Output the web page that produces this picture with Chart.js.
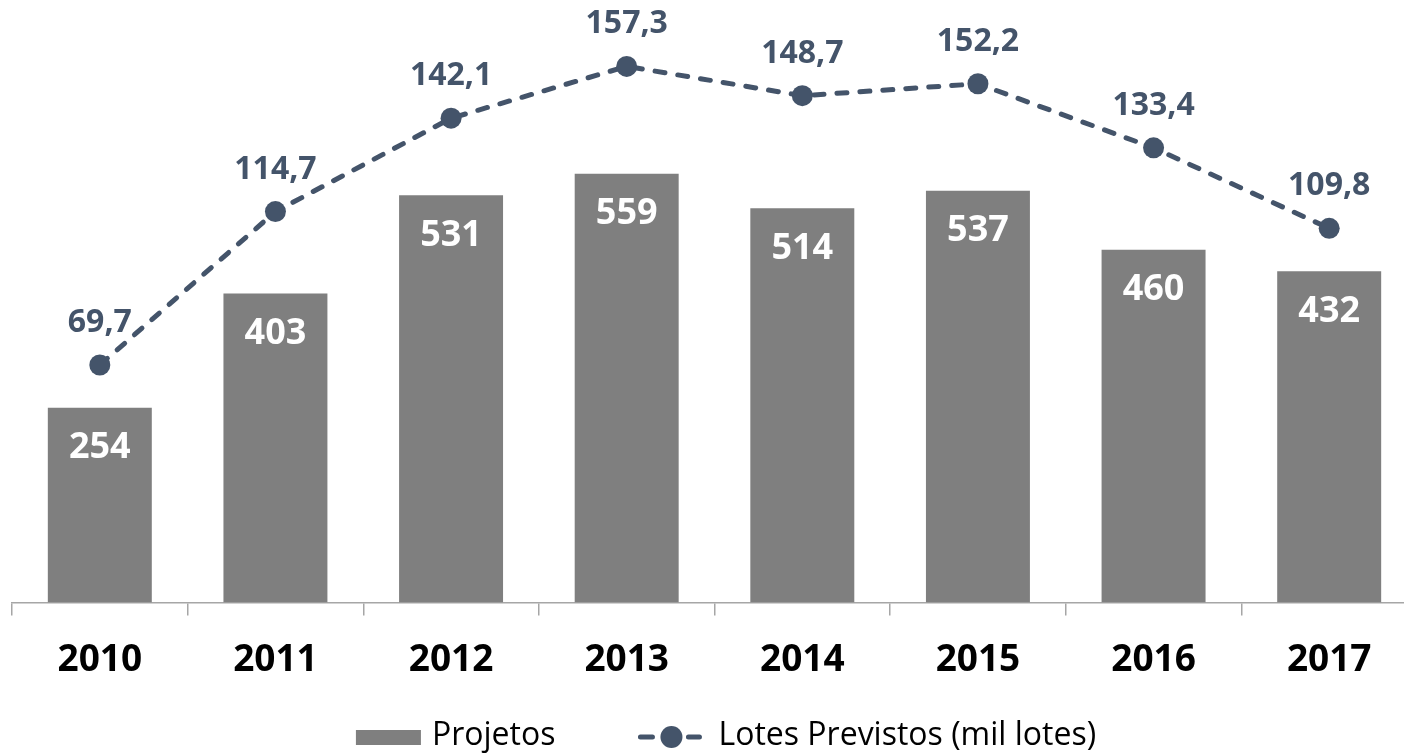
<!DOCTYPE html>
<html>
<head>
<meta charset="utf-8">
<script src="https://cdn.jsdelivr.net/npm/chart.js@4.4.1/dist/chart.umd.min.js"></script>
<style>
  html, body { margin: 0; padding: 0; background: #fff; overflow: hidden; }
  #wrap { position: relative; top: -11px; left: 0; width: 1420px; height: 765px; }
</style>
</head>
<body>
<div id="wrap"><canvas id="chart" width="1420" height="765"></canvas></div>
<script>
// dados
const anos = ['2010', '2011', '2012', '2013', '2014', '2015', '2016', '2017'];
const projetos = [254, 403, 531, 559, 514, 537, 460, 432];
const lotesPrevistos = [69.7, 114.7, 142.1, 157.3, 148.7, 152.2, 133.4, 109.8];

const CINZA = '#7f7f7f';
const AZUL = '#44546a';
const FONTE = "'Open Sans', 'Noto Sans', sans-serif";

// rótulos de valor
const rotulos = {
  id: 'rotulos',
  afterDatasetsDraw(chart) {
    const ctx = chart.ctx;
    ctx.save();
    ctx.textAlign = 'center';
    ctx.textBaseline = 'middle';

    chart.getDatasetMeta(1).data.forEach((bar, i) => {
      ctx.font = `bold 36px ${FONTE}`;
      ctx.fillStyle = '#ffffff';
      ctx.fillText(String(projetos[i]), bar.x, bar.y + 40);
    });

    chart.getDatasetMeta(0).data.forEach((pt, i) => {
      ctx.font = `bold 32px ${FONTE}`;
      ctx.fillStyle = AZUL;
      ctx.fillText(lotesPrevistos[i].toFixed(1).replace('.', ','), pt.x, pt.y - 42);
    });
    ctx.restore();
  }
};

// legenda desenhada à mão (ícone linha + círculo)
const legenda = {
  id: 'legenda',
  afterDraw(chart) {
    const ctx = chart.ctx;
    const t1 = chart.data.datasets[1].label;
    const t2 = chart.data.datasets[0].label;
    ctx.save();
    ctx.font = `32px ${FONTE}`;
    const w1 = ctx.measureText(t1).width;
    const w2 = ctx.measureText(t2).width;
    const total = 65 + 11 + w1 + 83 + 63 + 17 + w2;
    let x = 726 - total / 2;
    const cy = 748;

    ctx.fillStyle = CINZA;
    ctx.fillRect(x, cy - 7, 65, 15);
    x += 65 + 11;
    ctx.fillStyle = '#000';
    ctx.textBaseline = 'alphabetic';
    ctx.fillText(t1, x, cy + 8);
    x += w1 + 83;

    ctx.strokeStyle = AZUL;
    ctx.lineWidth = 5;
    ctx.lineCap = 'round';
    ctx.beginPath();
    ctx.moveTo(x + 2, cy); ctx.lineTo(x + 14, cy);
    ctx.moveTo(x + 50, cy); ctx.lineTo(x + 61, cy);
    ctx.stroke();
    ctx.beginPath();
    ctx.arc(x + 33, cy, 11, 0, 2 * Math.PI);
    ctx.fillStyle = AZUL;
    ctx.fill();
    x += 63 + 17;

    ctx.fillStyle = '#000';
    ctx.fillText(t2, x, cy + 8);
    ctx.restore();
  }
};

new Chart(document.getElementById('chart'), {
  type: 'bar',
  data: {
    labels: anos,
    datasets: [
      {
        type: 'line',
        label: 'Lotes Previstos (mil lotes)',
        data: lotesPrevistos,
        yAxisID: 'y1',
        borderColor: AZUL,
        borderWidth: 5,
        borderDash: [10, 13],
        borderCapStyle: 'round',
        pointRadius: 10.5,
        pointBackgroundColor: AZUL,
        pointBorderWidth: 0,
        tension: 0,
        clip: false,
        order: 1,
      },
      {
        type: 'bar',
        label: 'Projetos',
        data: projetos,
        yAxisID: 'y',
        backgroundColor: CINZA,
        barPercentage: 0.592,
        categoryPercentage: 1,
        order: 2,
      },
    ],
  },
  options: {
    responsive: false,
    animation: false,
    layout: { autoPadding: false, padding: { left: 12, right: 3, top: 0, bottom: 48 } },
    plugins: { legend: { display: false }, tooltip: { enabled: false } },
    scales: {
      x: {
        grid: {
          display: true,
          drawOnChartArea: false,
          drawTicks: true,
          tickLength: 13,
          color: '#a6a6a6',
          lineWidth: 1.5,
          offset: true,
        },
        border: { display: true, color: '#a6a6a6', width: 1.5 },
        ticks: {
          color: '#000',
          padding: 23,
          font: { family: FONTE, size: 37, weight: 'bold' },
        },
      },
      y: { display: false, min: 0, max: 800 },
      y1: { display: false, min: 0, max: 180, position: 'right' },
    },
  },
  plugins: [rotulos, legenda],
});
</script>
</body>
</html>
